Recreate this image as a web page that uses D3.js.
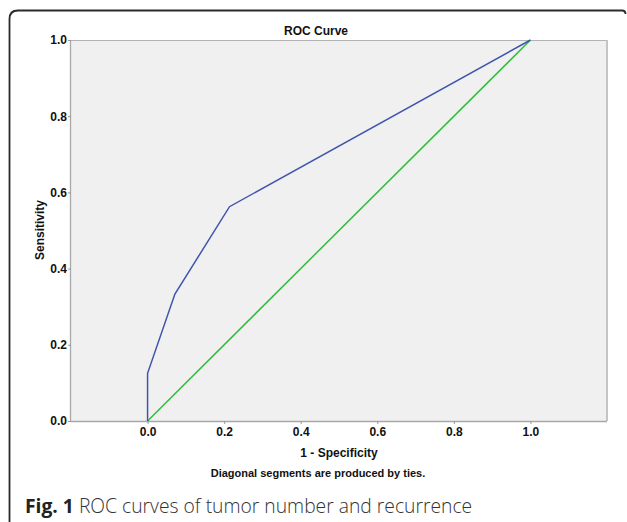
<!DOCTYPE html>
<html><head><meta charset="utf-8">
<script src="https://cdn.jsdelivr.net/npm/d3@7"></script>
<style>body{margin:0;background:#fff}svg{display:block}</style>
</head><body>
<script>
const rocFPR = [0, 0, 0.0714, 0.214, 1];
const rocTPR = [0, 0.125, 0.333, 0.5625, 1];
const refFPR = [0, 1];
const refTPR = [0, 1];
const xTicks = [0, 0.2, 0.4, 0.6, 0.8, 1.0];
const yTicks = [0, 0.2, 0.4, 0.6, 0.8, 1.0];
const titleText = "ROC Curve";
const xLabel = "1 - Specificity";
const yLabel = "Sensitivity";
const noteText = "Diagonal segments are produced by ties.";
const captionBold = "Fig. 1";
const captionRest = " ROC curves of tumor number and recurrence";

(function () {
const W = 627, H = 522;
const svg = d3.select("body").append("svg").attr("width", W).attr("height", H);

// frame
svg.append("path")
  .attr("d", "M9.5,522 L9.5,19 Q9.5,10.5 18,10.5 L622,10.5 Q625.5,10.5 625.5,14")
  .attr("fill", "none").attr("stroke", "#2a2a2a").attr("stroke-width", 1.8);

const pL = 71, pR = 607, pT = 40, pB = 421;
const x = d3.scaleLinear().domain([-0.2, 1.2]).range([pL, pR]);
const y = d3.scaleLinear().domain([0, 1]).range([pB, pT]);

svg.append("rect").attr("x", pL).attr("y", pT).attr("width", pR - pL).attr("height", pB - pT)
  .attr("fill", "#f0f0f0");
svg.append("line").attr("x1", pL).attr("x2", pR).attr("y1", pT + 0.5).attr("y2", pT + 0.5).attr("stroke", "#b4b4b4");
svg.append("line").attr("x1", pR).attr("x2", pR).attr("y1", pT).attr("y2", pB).attr("stroke", "#c4c4c4").attr("stroke-width", 2);
svg.append("line").attr("x1", pL - 0.5).attr("x2", pL - 0.5).attr("y1", pT).attr("y2", pB).attr("stroke", "#a8a8a8").attr("stroke-width", 1.3);
svg.append("line").attr("x1", pL).attr("x2", pR).attr("y1", pB + 0.5).attr("y2", pB + 0.5).attr("stroke", "#a8a8a8").attr("stroke-width", 1.3);

const tickFont = "'Liberation Sans', Arial, sans-serif";
const xAxis = svg.append("g").attr("transform", `translate(0,${pB})`)
  .call(d3.axisBottom(x).tickValues(xTicks).tickFormat(d3.format(".1f")).tickSize(3).tickPadding(3));
const yAxis = svg.append("g").attr("transform", `translate(${pL},0)`)
  .call(d3.axisLeft(y).tickValues(yTicks).tickFormat(d3.format(".1f")).tickSize(3).tickPadding(1));
[xAxis, yAxis].forEach(g => {
  g.select(".domain").remove();
  g.selectAll("line").attr("stroke", "#999");
  g.selectAll("text").attr("font-family", tickFont).attr("font-weight", "bold").attr("font-size", 12).attr("fill", "#111");
});

const line = d3.line().x(d => x(d[0])).y(d => y(d[1]));
svg.append("path").datum(refFPR.map((v, i) => [v, refTPR[i]])).attr("d", line)
  .attr("fill", "none").attr("stroke", "#2fbe3a").attr("stroke-width", 1.5);
svg.append("path").datum(rocFPR.map((v, i) => [v, rocTPR[i]])).attr("d", line)
  .attr("fill", "none").attr("stroke", "#3f55ad").attr("stroke-width", 1.5);

svg.append("text").attr("x", 316).attr("y", 35).attr("text-anchor", "middle")
  .attr("font-family", tickFont).attr("font-weight", "bold").attr("font-size", 12).attr("fill", "#111").text(titleText);
svg.append("text").attr("x", (pL + pR) / 2).attr("y", 457).attr("text-anchor", "middle")
  .attr("font-family", tickFont).attr("font-weight", "bold").attr("font-size", 12).attr("fill", "#111").text(xLabel);
svg.append("text").attr("transform", `translate(44,230) rotate(-90)`).attr("text-anchor", "middle")
  .attr("font-family", tickFont).attr("font-weight", "bold").attr("font-size", 12).attr("fill", "#111").text(yLabel);
svg.append("text").attr("x", 318).attr("y", 477).attr("text-anchor", "middle")
  .attr("font-family", tickFont).attr("font-weight", "bold").attr("font-size", 11).attr("fill", "#111").text(noteText);

const cap = svg.append("text").attr("x", 25).attr("y", 513)
  .attr("font-family", "'Open Sans', 'Noto Sans', sans-serif").attr("font-size", 19.3).attr("fill", "#333");
cap.append("tspan").attr("font-weight", "bold").attr("fill", "#222").text(captionBold);
cap.append("tspan").attr("font-weight", 300).text(captionRest);
})();
</script>
</body></html>
